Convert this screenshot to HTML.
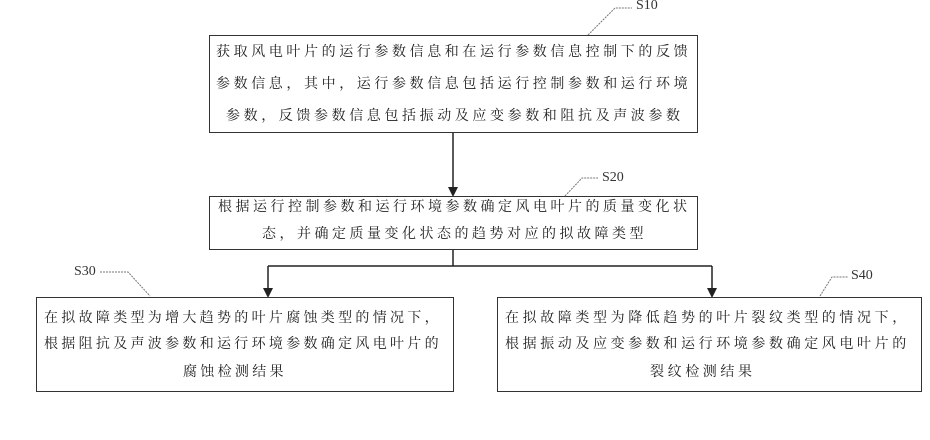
<!DOCTYPE html>
<html><head><meta charset="utf-8"><style>
body{margin:0;width:930px;height:440px;background:#fff;position:relative;overflow:hidden;font-family:"Liberation Serif","Noto Serif CJK SC",serif;color:#222}
.b{position:absolute;border:1.5px solid #333;box-sizing:border-box}
.t{position:absolute;font-size:14px;line-height:16px;white-space:nowrap}
.l{position:absolute;font-size:14px;font-family:"Liberation Serif",serif;color:#333}
</style></head><body>
<svg width="930" height="440" style="position:absolute;left:0;top:0">
<g stroke="#222" stroke-width="1.5" fill="none">
<line x1="453" y1="133" x2="453" y2="188"/>
<line x1="453" y1="250" x2="453" y2="266"/>
<line x1="268" y1="266" x2="712" y2="266"/>
<line x1="268" y1="266" x2="268" y2="289"/>
<line x1="712" y1="266" x2="712" y2="289"/>
</g>
<g fill="#222"><path d="M448,187 L458,187 L453,197z"/><path d="M263,288 L273,288 L268,298z"/><path d="M707,288 L717,288 L712,298z"/></g>
<g stroke="#777" stroke-width="1" fill="none" stroke-dasharray="2,1">
<path d="M588,35 L615,8 L632,8"/>
<path d="M565,196 L582,178 L598,178"/>
<path d="M100,272 L128,272 L150,296"/>
<path d="M820,296 L832,277 L848,277"/>
</g>
</svg>
<div class="l" style="left:636px;top:-2px">S10</div>
<div class="l" style="left:602px;top:170px">S20</div>
<div class="l" style="left:74px;top:264px">S30</div>
<div class="l" style="left:851px;top:268px">S40</div>
<div class="b" style="left:209px;top:35px;width:489px;height:98px"></div>
<div class="b" style="left:209px;top:196px;width:489px;height:54px"></div>
<div class="b" style="left:36px;top:297px;width:418px;height:95px"></div>
<div class="b" style="left:497px;top:297px;width:425px;height:95px"></div>
<div class="t" style="left:216px;top:45px;letter-spacing:3.6px">获取风电叶片的运行参数信息和在运行参数信息控制下的反馈</div>
<div class="t" style="left:216px;top:77px;letter-spacing:3.6px">参数信息，其中，运行参数信息包括运行控制参数和运行环境</div>
<div class="t" style="left:226px;top:109px;letter-spacing:3.6px">参数，反馈参数信息包括振动及应变参数和阻抗及声波参数</div>
<div class="t" style="left:218px;top:200px;letter-spacing:3.5px">根据运行控制参数和运行环境参数确定风电叶片的质量变化状</div>
<div class="t" style="left:262px;top:227px;letter-spacing:3.5px">态，并确定质量变化状态的趋势对应的拟故障类型</div>
<div class="t" style="left:44px;top:311px;letter-spacing:3.3px">在拟故障类型为增大趋势的叶片腐蚀类型的情况下，</div>
<div class="t" style="left:44px;top:337px;letter-spacing:3.3px">根据阻抗及声波参数和运行环境参数确定风电叶片的</div>
<div class="t" style="left:183px;top:365px;letter-spacing:3.3px">腐蚀检测结果</div>
<div class="t" style="left:505px;top:311px;letter-spacing:3.6px">在拟故障类型为降低趋势的叶片裂纹类型的情况下，</div>
<div class="t" style="left:505px;top:337px;letter-spacing:3.6px">根据振动及应变参数和运行环境参数确定风电叶片的</div>
<div class="t" style="left:650px;top:365px;letter-spacing:3.6px">裂纹检测结果</div>
</body></html>
